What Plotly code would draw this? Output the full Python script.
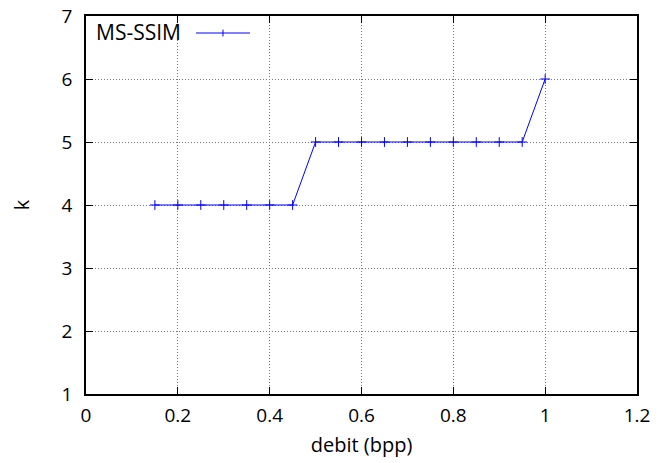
import plotly.graph_objects as go

debit = [0.15, 0.2, 0.25, 0.3, 0.35, 0.4, 0.45, 0.5, 0.55, 0.6, 0.65, 0.7, 0.75, 0.8, 0.85, 0.9, 0.95, 1.0]
k_vals = [4, 4, 4, 4, 4, 4, 4, 5, 5, 5, 5, 5, 5, 5, 5, 5, 5, 6]
series_name = "MS-SSIM"
x_ticks = [0, 0.2, 0.4, 0.6, 0.8, 1, 1.2]
x_tick_text = ["0", "0.2", "0.4", "0.6", "0.8", "1", "1.2"]
y_ticks = [1, 2, 3, 4, 5, 6, 7]

BLUE = "#0000ff"
FONT = "Open Sans, Liberation Sans, sans-serif"
FS = 19

fig = go.Figure()
fig.add_trace(go.Scatter(
    x=debit, y=k_vals, mode="lines+markers", name=series_name,
    line=dict(color=BLUE, width=1),
    marker=dict(symbol="cross-thin", size=7, line=dict(color=BLUE, width=1)),
    showlegend=False, cliponaxis=False,
))

axis_common = dict(
    showline=True, linecolor="black", linewidth=1.5, mirror="ticks",
    ticks="inside", ticklen=7, tickcolor="black", tickwidth=1,
    showgrid=True, gridcolor="#777777", griddash="1px,2px", gridwidth=1,
    zeroline=False, tickfont=dict(size=FS, color="black", family=FONT),
    automargin=False, ticklabeloverflow="allow",
)

fig.update_xaxes(range=[0, 1.2], tickvals=x_ticks, ticktext=x_tick_text,
                 ticklabelstandoff=3,
                 title=dict(text="debit (bpp)", font=dict(size=20, family=FONT, color="black"), standoff=11),
                 **axis_common)
fig.update_yaxes(range=[1, 7], tickvals=y_ticks, ticklabelstandoff=8,
                 title=dict(text="k", font=dict(size=20, family=FONT, color="black"), standoff=28),
                 **axis_common)

# gnuplot-style legend: text then sample
fig.add_annotation(x=0.176, y=0.958, xref="paper", yref="paper", text=series_name,
                   showarrow=False, xanchor="right", yanchor="middle",
                   font=dict(size=21, family=FONT, color="black"))
fig.add_shape(type="line", xref="paper", yref="paper", x0=0.1996, x1=0.2976, y0=0.955, y1=0.955,
              line=dict(color=BLUE, width=1))
fig.add_shape(type="line", xref="paper", yref="paper", x0=0.2486, x1=0.2486, y0=0.946, y1=0.964,
              line=dict(color=BLUE, width=1))

fig.update_layout(
    width=658, height=463,
    margin=dict(l=78, r=29, t=8, b=77),
    plot_bgcolor="white", paper_bgcolor="white",
    font=dict(family=FONT, color="black"),
)

fig.write_html("out.html")
